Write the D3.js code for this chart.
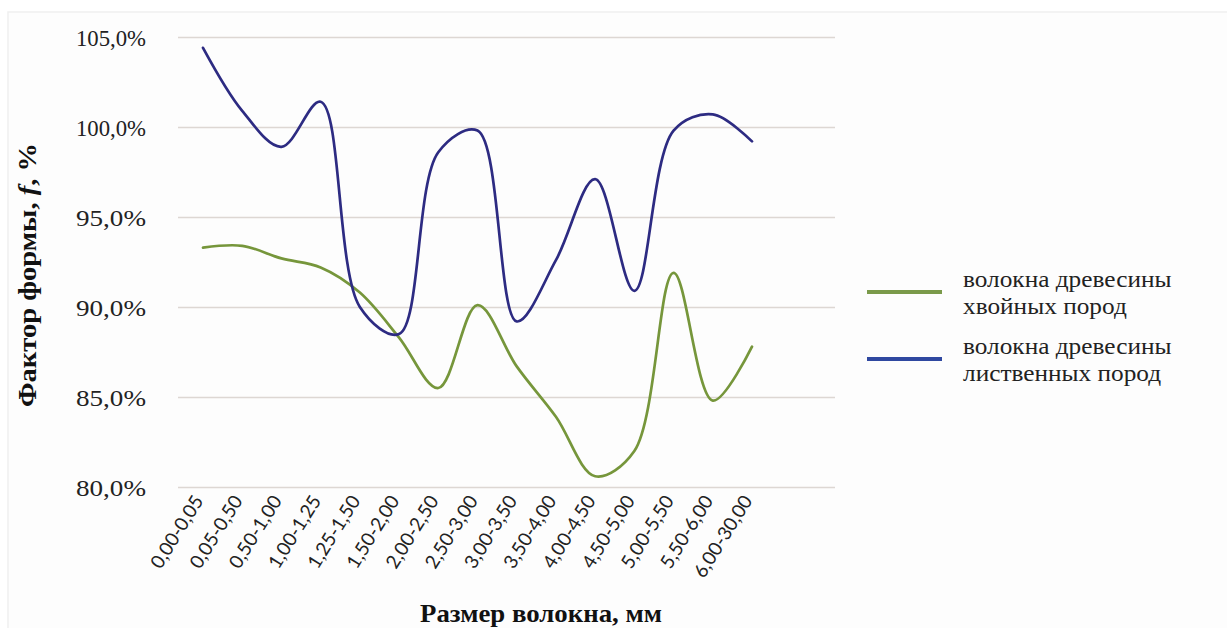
<!DOCTYPE html>
<html>
<head>
<meta charset="utf-8">
<script src="https://cdn.jsdelivr.net/npm/d3@7"></script>
<style>
  html, body { margin: 0; padding: 0; background: #ffffff; }
  svg { display: block; }
  .serif { font-family: "Liberation Serif", "Times New Roman", Times, serif; }
</style>
</head>
<body>
<svg id="chart" width="1227" height="628"></svg>
<script>
// Fibre size classes, mm
const categories = ["0,00-0,05", "0,05-0,50", "0,50-1,00", "1,00-1,25", "1,25-1,50",
  "1,50-2,00", "2,00-2,50", "2,50-3,00", "3,00-3,50", "3,50-4,00", "4,00-4,50",
  "4,50-5,00", "5,00-5,50", "5,50-6,00", "6,00-30,00"];

// Shape factor f, %
const softwood = [93.3, 93.4, 92.7, 92.2, 90.8, 88.3, 85.5, 90.1, 86.7, 83.9, 80.6, 82.0, 91.9, 84.8, 87.8];
const hardwood = [104.4, 100.9, 98.9, 101.4, 90.0, 88.5, 98.6, 99.8, 89.2, 92.6, 97.1, 90.9, 99.8, 100.7, 99.2];

const yTicks = [80, 85, 90, 95, 100, 105];
const seriesNames = [["волокна древесины", "хвойных пород"], ["волокна древесины", "лиственных пород"]];

const SERIF = "'Liberation Serif', 'Times New Roman', Times, serif";

const svg = d3.select("#chart");

// faint outer frame
svg.append("rect")
  .attr("x", 8).attr("y", 12).attr("width", 1240).attr("height", 640)
  .attr("fill", "#fdfdfd").attr("stroke", "#efefef").attr("stroke-width", 1.5);

const plotLeft = 178, plotRight = 835;
const x = d3.scalePoint().domain(categories).range([203, 752]);
const y = d3.scaleLinear().domain([80, 105]).range([487, 37]);

// horizontal gridlines with percentage labels
const yAxis = d3.axisLeft(y).tickValues(yTicks)
  .tickSize(-(plotRight - plotLeft))
  .tickFormat(d => d3.format(".1f")(d).replace(".", ",") + "%");

const gy = svg.append("g").attr("transform", `translate(${plotLeft},0)`).call(yAxis)
  .attr("font-family", SERIF);
gy.select(".domain").remove();
gy.selectAll(".tick line").attr("stroke", "#ddd7d3").attr("stroke-width", 1.6);
gy.selectAll(".tick text")
  .attr("class", "serif")
  .attr("x", -32)
  .attr("dy", "0.36em")
  .attr("fill", "#222")
  .attr("font-family", SERIF)
  .attr("font-size", 24)
  .attr("textLength", 70)
  .attr("lengthAdjust", "spacingAndGlyphs");

// category labels, rotated
const xAxis = d3.axisBottom(x).tickSize(0);
const gx = svg.append("g").attr("transform", "translate(0,497)").call(xAxis)
  .attr("font-family", "Lato, 'Open Sans', sans-serif");
gx.select(".domain").remove();
gx.selectAll(".tick text")
  .attr("text-anchor", "end")
  .attr("dy", "0.35em")
  .attr("transform", "translate(-5,0) rotate(-58)")
  .attr("x", 0).attr("y", 0)
  .attr("fill", "#222")
  .attr("font-size", 19);

// series lines
const line = d3.line()
  .x((d, i) => x(categories[i]))
  .y(d => y(d))
  .curve(d3.curveCatmullRom.alpha(0.5));

const series = [
  { values: softwood, color: "#76963b", legend: "#7a9a4a" },
  { values: hardwood, color: "#2d2b82", legend: "#2f48a0" }
];

series.forEach(s => {
  svg.append("path")
    .datum(s.values)
    .attr("d", line)
    .attr("fill", "none")
    .attr("stroke", s.color)
    .attr("stroke-width", 2.7)
    .attr("stroke-linejoin", "round")
    .attr("stroke-linecap", "round");
});

// legend: two lines of text per series, slightly widened
const legendRows = [292, 359];
series.forEach((s, i) => {
  const g = svg.append("g").attr("transform", `translate(0,${legendRows[i]})`);
  g.append("line").attr("x1", 867).attr("x2", 942).attr("y1", 0).attr("y2", 0)
    .attr("stroke", s.legend).attr("stroke-width", 4);
  seriesNames[i].forEach((str, j) => {
    const t = g.append("text")
      .attr("class", "serif")
      .attr("x", 963).attr("y", -5 + j * 27)
      .attr("fill", "#222")
      .attr("font-family", SERIF)
      .attr("font-size", 23)
      .text(str);
    const w = t.node().getComputedTextLength();
    t.attr("textLength", w * 1.1).attr("lengthAdjust", "spacingAndGlyphs");
  });
});

// axis titles
svg.append("text")
  .attr("class", "serif")
  .attr("x", 541).attr("y", 622)
  .attr("text-anchor", "middle")
  .attr("fill", "#111")
  .attr("font-family", SERIF)
  .attr("font-weight", "bold")
  .attr("font-size", 25)
  .attr("textLength", 242)
  .attr("lengthAdjust", "spacingAndGlyphs")
  .text("Размер волокна, мм");

const yTitle = svg.append("text")
  .attr("class", "serif")
  .attr("transform", "translate(36,275) rotate(-90)")
  .attr("text-anchor", "middle")
  .attr("fill", "#111")
  .attr("font-family", SERIF)
  .attr("font-weight", "bold")
  .attr("font-size", 25)
  .attr("textLength", 264)
  .attr("lengthAdjust", "spacingAndGlyphs");
yTitle.append("tspan").text("Фактор формы, ");
yTitle.append("tspan").attr("font-style", "italic").text("f");
yTitle.append("tspan").text(", %");
</script>
</body>
</html>
